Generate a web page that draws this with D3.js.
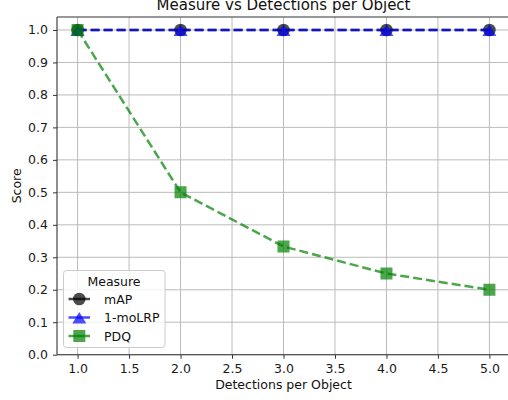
<!DOCTYPE html>
<html>
<head>
<meta charset="utf-8">
<script src="https://cdn.jsdelivr.net/npm/d3@7"></script>
<style>
  html, body { margin: 0; padding: 0; background: #ffffff; }
  svg { display: block; font-family: "DejaVu Sans", sans-serif; }
</style>
</head>
<body>
<svg id="chart" width="508" height="400"></svg>
<script>
// Detections per object on the x axis
const detections = [1, 2, 3, 4, 5];
// Scores for each measure
const mapScores = [1.0, 1.0, 1.0, 1.0, 1.0];
const moLrpScores = [1.0, 1.0, 1.0, 1.0, 1.0];
const pdqScores = [1.0, 0.5, 0.3333, 0.25, 0.2];
// Tick labels
const xTicks = [1.0, 1.5, 2.0, 2.5, 3.0, 3.5, 4.0, 4.5, 5.0];
const yTicks = [0.0, 0.1, 0.2, 0.3, 0.4, 0.5, 0.6, 0.7, 0.8, 0.9, 1.0];
const seriesNames = ["mAP", "1-moLRP", "PDQ"];

const series = [
  { name: seriesNames[0], values: mapScores, color: "#000000", marker: "circle" },
  { name: seriesNames[1], values: moLrpScores, color: "#0000ff", marker: "triangle" },
  { name: seriesNames[2], values: pdqScores, color: "#008000", marker: "square" }
];

const svg = d3.select("#chart");
const plot = { left: 57, right: 510, top: 17, bottom: 354.7 };

const x = d3.scaleLinear().domain([0.8, 5.2]).range([plot.left, plot.right]);
const y = d3.scaleLinear().domain([0, 1.04]).range([plot.bottom, plot.top]);

// clip for plotted content
svg.append("defs").append("clipPath").attr("id", "plotClip")
  .append("rect")
  .attr("x", plot.left).attr("y", plot.top)
  .attr("width", plot.right - plot.left).attr("height", plot.bottom - plot.top);

// grid
const grid = svg.append("g").attr("stroke", "#b0b0b0").attr("stroke-width", 1).attr("opacity", 0.85);
grid.selectAll(".gx").data(xTicks).join("line")
  .attr("x1", d => x(d)).attr("x2", d => x(d))
  .attr("y1", plot.top).attr("y2", plot.bottom);
grid.selectAll(".gy").data(yTicks).join("line")
  .attr("x1", plot.left).attr("x2", plot.right)
  .attr("y1", d => y(d)).attr("y2", d => y(d));

// axes
const fmt = d3.format(".1f");
const xAxis = svg.append("g")
  .attr("transform", `translate(0,${plot.bottom})`)
  .call(d3.axisBottom(x).tickValues(xTicks).tickFormat(fmt).tickSize(4).tickPadding(5));
const yAxis = svg.append("g")
  .attr("transform", `translate(${plot.left},0)`)
  .call(d3.axisLeft(y).tickValues(yTicks).tickFormat(fmt).tickSize(4).tickPadding(5));
[xAxis, yAxis].forEach(a => {
  a.select(".domain").remove();
  a.selectAll(".tick line").attr("stroke", "#333333").attr("stroke-width", 1);
  a.selectAll(".tick text").attr("fill", "#1a1a1a")
    .style("font-family", "DejaVu Sans").style("font-size", "12.5px");
});

// spines
const spines = svg.append("g").attr("stroke", "#333333").attr("stroke-width", 1.1).attr("fill", "none");
spines.append("line").attr("x1", plot.left).attr("x2", plot.left).attr("y1", plot.top).attr("y2", plot.bottom);
spines.append("line").attr("x1", plot.left).attr("x2", plot.right).attr("y1", plot.bottom).attr("y2", plot.bottom);
spines.append("line").attr("x1", plot.left).attr("x2", plot.right).attr("y1", plot.top).attr("y2", plot.top);
spines.append("line").attr("x1", plot.right).attr("x2", plot.right).attr("y1", plot.top).attr("y2", plot.bottom);

// marker shapes
function markerPath(kind) {
  if (kind === "circle") return d3.symbol(d3.symbolCircle, Math.PI * 6.3 * 6.3)();
  if (kind === "square") return "M-6,-6H6V6H-6Z";
  return "M0,-5.5L7,6L-7,6Z";
}

// lines and markers
const lineGen = (vals) => d3.line().x((d, i) => x(detections[i])).y(d => y(d))(vals);
const content = svg.append("g").attr("clip-path", "url(#plotClip)");
series.forEach(s => {
  const g = content.append("g");
  g.append("path")
    .attr("d", lineGen(s.values))
    .attr("fill", "none")
    .attr("stroke", s.color)
    .attr("stroke-opacity", 0.7)
    .attr("stroke-width", 2.5)
    .attr("stroke-dasharray", "9,4");
  g.selectAll("path.m").data(s.values).join("path")
    .attr("class", "m")
    .attr("transform", (d, i) => `translate(${x(detections[i])},${y(d)})`)
    .attr("d", markerPath(s.marker))
    .attr("fill", s.color)
    .attr("fill-opacity", 0.7);
});

// title and axis labels
svg.append("text").attr("x", 283.5).attr("y", 9.5).attr("text-anchor", "middle")
  .style("font-size", "15px").attr("fill", "#111111").text("Measure vs Detections per Object");
svg.append("text").attr("x", 283.5).attr("y", 389).attr("text-anchor", "middle")
  .style("font-size", "12.5px").attr("fill", "#111111").text("Detections per Object");
svg.append("text").attr("transform", `translate(21,${(plot.top + plot.bottom) / 2}) rotate(-90)`)
  .attr("text-anchor", "middle").style("font-size", "12.5px").attr("fill", "#111111").text("Score");

// legend
const legend = svg.append("g");
legend.append("rect")
  .attr("x", 63.5).attr("y", 270.5).attr("width", 101.5).attr("height", 77)
  .attr("rx", 3).attr("fill", "#ffffff").attr("fill-opacity", 0.8)
  .attr("stroke", "#cccccc").attr("stroke-width", 1);
legend.append("text").attr("x", 114).attr("y", 285.5).attr("text-anchor", "middle")
  .style("font-size", "12.5px").attr("fill", "#111111").text("Measure");
series.forEach((s, i) => {
  const cy = 299 + i * 18.5;
  legend.append("line").attr("x1", 68.5).attr("x2", 90).attr("y1", cy).attr("y2", cy)
    .attr("stroke", s.color).attr("stroke-opacity", 0.7).attr("stroke-width", 2.5);
  legend.append("path").attr("transform", `translate(79.3,${cy})`)
    .attr("d", markerPath(s.marker)).attr("fill", s.color).attr("fill-opacity", 0.7);
  legend.append("text").attr("x", 104).attr("y", cy + 4.5)
    .style("font-size", "12.5px").attr("fill", "#111111").text(s.name);
});
</script>
</body>
</html>
